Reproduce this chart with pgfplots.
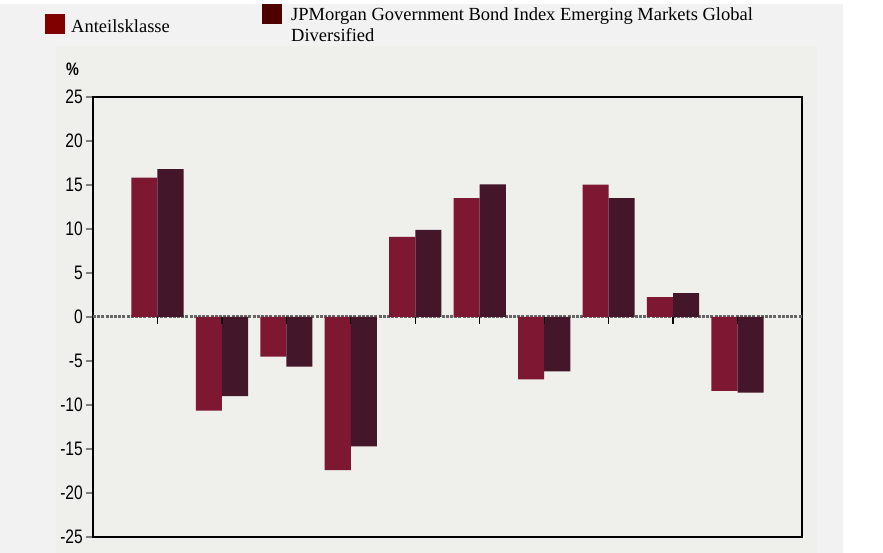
\documentclass[border=0pt]{standalone}
\usepackage{fontspec}
\setmainfont{Liberation Serif}
\newfontfamily\ticksf[FakeStretch=0.8]{Liberation Sans}
\usepackage{pgfplots}
\pgfplotsset{compat=1.18}
\definecolor{barA}{HTML}{7E1732}
\definecolor{barB}{HTML}{431629}
\definecolor{panel}{HTML}{EFEFEB}
\definecolor{outerbg}{HTML}{F2F2F2}
\definecolor{legA}{HTML}{800000}
\definecolor{legB}{HTML}{4D0000}
\definecolor{zline}{HTML}{666666}
\begin{document}
\begin{tikzpicture}[x=1pt,y=1pt]
\fill[white] (0,0) rectangle (883,553);
\fill[outerbg] (0,0) rectangle (843,549);
\fill[panel] (56,0) rectangle (817,507);
\fill[legA] (45,519) rectangle (65,539);
\node[anchor=base west, inner sep=0] at (71,520.7) {\fontsize{18.5}{21}\selectfont Anteilsklasse};
\fill[legB] (262,529) rectangle (282,549);
\node[anchor=base west, inner sep=0] at (291,532.3) {\fontsize{18.5}{21}\selectfont JPMorgan Government Bond Index Emerging Markets Global};
\node[anchor=base west, inner sep=0] at (291,511) {\fontsize{18.5}{21}\selectfont Diversified};
\node[anchor=base west, inner sep=0] at (66,477.3) {\ticksf\bfseries\fontsize{18}{18}\selectfont \%};
\begin{axis}[
  at={(93pt,16pt)}, anchor=south west,
  width=709pt, height=440pt, scale only axis,
  xmin=0, xmax=11, ymin=-25, ymax=25,
  xtick=\empty,
  ytick={-25,-20,-15,-10,-5,0,5,10,15,20,25},
  yticklabels={-25,-20,-15,-10,-5,0,5,10,15,20,25},
  ytick pos=left,
  tick align=outside, major tick length=7pt,
  y tick style={color=gray, line width=1.2pt},
  axis line style={black, line width=2.4pt},
  axis background/.style={fill=panel},
  yticklabel style={font=\ticksf\fontsize{19.5}{19.5}\selectfont, inner sep=0pt, xshift=-3pt},
  clip=false,
]
\draw[zline, line width=3pt, dash pattern=on 3pt off 1.2pt] (axis cs:0,0) -- (axis cs:11,0);
\addplot[ybar, bar width=0.405, bar shift=-0.2025, fill=barA, draw=none] coordinates {
  (1,15.85) (2,-10.65) (3,-4.5) (4,-17.4) (5,9.1) (6,13.5) (7,-7.08) (8,15.05) (9,2.25) (10,-8.4)
};
\addplot[ybar, bar width=0.405, bar shift=0.2025, fill=barB, draw=none] coordinates {
  (1,16.8) (2,-8.98) (3,-5.65) (4,-14.7) (5,9.9) (6,15.08) (7,-6.17) (8,13.5) (9,2.72) (10,-8.6)
};
\pgfplotsinvokeforeach{1,2,3,4,5,6,7,8,9,10}{
  \draw[black, line width=1.3pt] (axis cs:#1,0) -- ([yshift=-7pt]axis cs:#1,0);
}
\end{axis}
\end{tikzpicture}
\end{document}
